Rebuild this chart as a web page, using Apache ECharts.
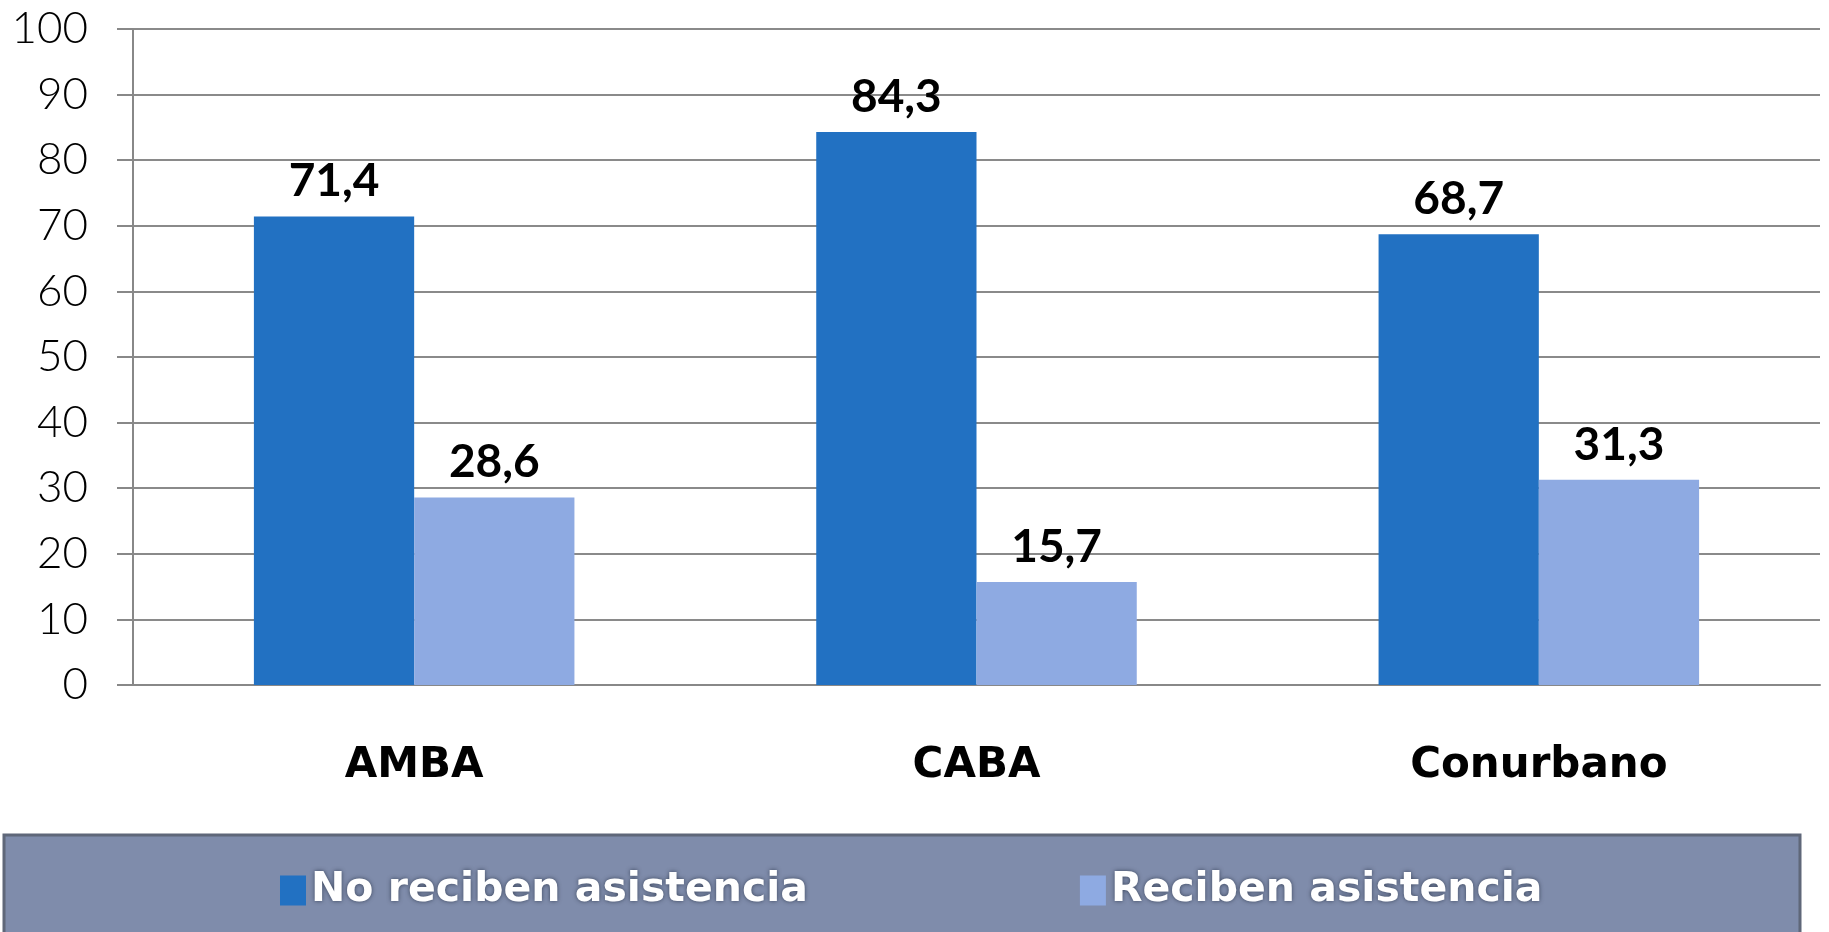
<!DOCTYPE html>
<html>
<head>
<meta charset="utf-8">
<script src="https://cdn.jsdelivr.net/npm/echarts@6/dist/echarts.min.js"></script>
<style>
    html, body {margin: 0; padding: 0; background: #fff;}
    #main {width: 1829px; height: 932px;}
</style>
</head>
<body>
<div id="main"></div>
<script>
    // datos
    var categorias = ['AMBA', 'CABA', 'Conurbano'];
    var noReciben = [71.4, 84.3, 68.7];
    var reciben = [28.6, 15.7, 31.3];
    var nombres = ['No reciben asistencia', 'Reciben asistencia'];

    var myChart = echarts.init(document.getElementById('main'));

    function coma(p) {
        return String(p.value.toFixed(1)).replace('.', ',');
    }

    var labelStyle = {
        show: true,
        position: 'top',
        distance: 12,
        formatter: coma,
        color: '#000',
        fontFamily: 'Lato',
        fontWeight: 'bold',
        fontSize: 46
    };

    var option = {
        animation: false,
        backgroundColor: '#fff',
        grid: {
            left: 133,
            right: 9,
            top: 29,
            bottom: 247
        },
        graphic: [
            {
                type: 'rect',
                z: -1,
                shape: {x: 4, y: 835, width: 1796, height: 110},
                style: {fill: '#7f8cab', stroke: '#5f6779', lineWidth: 3}
            }
        ],
        legend: {
            data: nombres,
            left: 280,
            top: 870,
            padding: 0,
            icon: 'rect',
            itemWidth: 26,
            itemHeight: 30,
            itemGap: 272,
            textStyle: {
                color: '#fff',
                fontFamily: 'DejaVu Sans',
                fontWeight: 'bold',
                fontSize: 41,
                textShadowColor: 'rgba(40,50,70,0.8)',
                textShadowBlur: 4
            }
        },
        xAxis: [
            {
                type: 'category',
                data: categorias,
                axisLine: {lineStyle: {color: '#888', width: 2}},
                axisTick: {length: 17, lineStyle: {color: '#888', width: 2}},
                axisLabel: {
                    margin: 60,
                    color: '#000',
                    fontFamily: 'DejaVu Sans',
                    fontWeight: 'bold',
                    fontSize: 42
                }
            }
        ],
        yAxis: [
            {
                type: 'value',
                min: 0,
                max: 100,
                interval: 10,
                axisLine: {show: true, lineStyle: {color: '#888', width: 2}},
                axisTick: {show: true, length: 16, lineStyle: {color: '#888', width: 2}},
                splitLine: {lineStyle: {color: '#8a8a8a', width: 2}},
                axisLabel: {
                    margin: 45,
                    color: '#000',
                    fontFamily: 'Lato',
                    fontWeight: 300,
                    fontSize: 44
                }
            }
        ],
        series: [
            {
                name: nombres[0],
                type: 'bar',
                barGap: '0%',
                barCategoryGap: '43%',
                itemStyle: {color: '#2271c2'},
                label: labelStyle,
                data: noReciben
            },
            {
                name: nombres[1],
                type: 'bar',
                itemStyle: {color: '#8eaae2'},
                label: labelStyle,
                data: reciben
            }
        ]
    };

    myChart.setOption(option);
</script>
</body>
</html>
